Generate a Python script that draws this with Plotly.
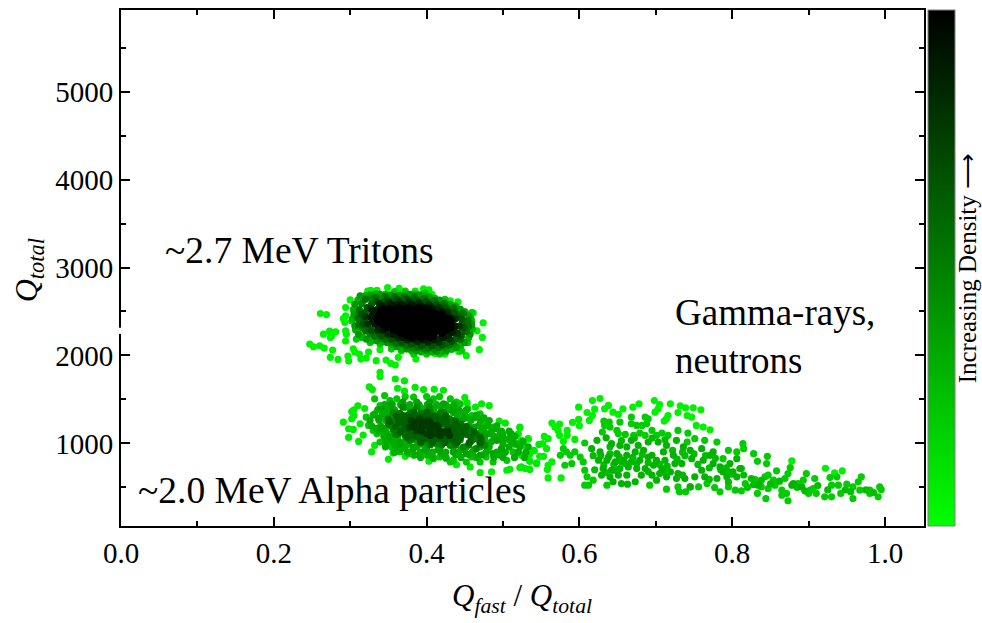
import plotly.graph_objects as go

FONT = "Liberation Serif"

# Values: Q_fast/Q_total and Q_total, grouped by density level.
triton_sparse_x = [.261,.269,.247,.252,.260,.266,.265,.273,.281,.276,.274,.294,.294,.291,.293,.294,.295,.294,.277,.274,.284,.297,.298,.304,.306,.312,.314,.321,.324,.339,.334,.347,.353,.359,.363,.386,.339,.339,.300,.323,.327,.335,.349,.364,.385,.396,.403,.407,.431,.441,.461,.474,.466,.473,.469,.452,.442,.424,.411]
triton_sparse_y = [2477,2465,2129,2099,2110,2084,2242,2276,2269,2223,2205,2545,2450,2420,2375,2280,2242,2163,2061,1978,1955,1993,1936,2076,2038,2016,1959,1970,2038,2065,1940,1948,1910,1891,1978,1959,1808,1759,2631,2733,2741,2741,2771,2764,2733,2756,2745,2696,2620,2609,2484,2371,2280,2205,2065,1997,2046,2016,2023]
triton_edge_x = [.317,.332,.358,.372,.398,.424,.437,.448,.459,.459,.454,.446,.417,.400,.383,.367,.354,.339,.326,.315,.308,.302]
triton_edge_y = [2620,2639,2726,2733,2715,2639,2563,2488,2488,2393,2148,2053,2016,2016,2016,2053,2072,2129,2148,2205,2186,2393]
triton_ringo_x = [.310,.320,.333,.346,.358,.372,.385,.398,.411,.424,.438,.450,.458,.460,.455,.445,.433,.420,.406,.393,.380,.367,.354,.341,.328,.316,.307,.303,.304]
triton_ringo_y = [2630,2680,2700,2695,2695,2700,2698,2680,2650,2610,2560,2500,2420,2300,2200,2120,2070,2040,2040,2040,2055,2080,2120,2150,2165,2210,2290,2420,2520]
triton_ringa_x = [.306,.313,.326,.339,.352,.365,.378,.391,.404,.417,.431,.444,.455,.459,.457,.450,.439,.426,.413,.400,.387,.374,.361,.348,.335,.321,.311,.306,.305]
triton_ringa_y = [2582,2677,2688,2696,2688,2688,2696,2688,2665,2628,2582,2526,2450,2356,2242,2148,2091,2053,2046,2053,2053,2072,2099,2148,2167,2186,2242,2337,2469]
triton_ringi_x = [.315,.328,.341,.354,.367,.380,.393,.406,.419,.432,.442,.450,.450,.446,.436,.423,.410,.396,.382,.368,.354,.340,.326,.316,.313,.312]
triton_ringi_y = [2590,2640,2650,2650,2650,2650,2635,2610,2570,2520,2460,2380,2280,2220,2140,2100,2070,2075,2085,2125,2150,2195,2240,2310,2400,2470]
triton_ringab_x = [.320,.333,.346,.358,.371,.384,.397,.410,.423,.436,.448,.454,.455,.452,.444,.430,.416,.402,.388,.374,.360,.346,.332,.320,.311,.310,.312]
triton_ringab_y = [2640,2660,2670,2670,2670,2668,2650,2625,2590,2540,2480,2400,2330,2270,2180,2120,2090,2085,2090,2110,2140,2180,2220,2280,2350,2420,2520]
triton_gap_x = [.328,.344,.356,.369,.382,.395,.408,.420,.432,.441,.447,.446,.438,.425,.410,.396,.382,.368,.352,.338,.325,.318,.320]
triton_gap_y = [2585,2610,2620,2625,2620,2600,2570,2555,2500,2440,2360,2270,2190,2135,2120,2120,2140,2160,2200,2245,2300,2400,2490]
triton_ringb_x = [.322,.335,.348,.361,.374,.387,.400,.413,.426,.437,.446,.449,.444,.433,.420,.407,.393,.380,.367,.354,.341,.328,.317,.315]
triton_ringb_y = [2545,2613,2628,2639,2639,2628,2613,2582,2537,2488,2412,2318,2223,2159,2122,2110,2110,2129,2148,2186,2223,2280,2356,2469]
triton_ringbc_x = [.327,.338,.351,.364,.377,.390,.403,.416,.428,.438,.443,.440,.430,.416,.402,.388,.375,.362,.349,.336,.323,.320]
triton_ringbc_y = [2530,2590,2605,2610,2610,2598,2578,2540,2490,2420,2335,2250,2190,2150,2148,2155,2175,2200,2240,2290,2360,2440]
triton_gap2_x = [.335,.346,.360,.374,.386,.400,.414,.426,.434,.436,.428,.415,.402,.390,.376,.362,.350,.337,.330,.329]
triton_gap2_y = [2520,2560,2575,2575,2570,2550,2518,2465,2400,2300,2230,2190,2165,2175,2190,2225,2265,2320,2395,2465]
triton_ringc_x = [.330,.341,.354,.367,.380,.393,.407,.420,.431,.437,.433,.422,.409,.396,.383,.369,.356,.343,.332,.327]
triton_ringc_y = [2507,2563,2582,2582,2582,2563,2537,2499,2431,2337,2261,2205,2178,2178,2186,2205,2242,2288,2356,2431]
triton_core_x = [.343,.356,.369,.383,.396,.337,.348,.359,.369,.380,.391,.402,.413,.339,.350,.361,.372,.383,.393,.404,.415,.426,.356,.367,.378,.389,.400,.411,.422,.372,.383,.393,.404,
                 .350,.363,.376,.389,.402,.343,.354,.365,.376,.387,.398,.409,.420,.343,.354,.365,.376,.387,.398,.409,.420,.430,.348,.359,.369,.380,.391,.402,.413,.424,.365,.376,.387,.398,.409,.417,.380,.392,.404,
                 .340,.351,.362,.373,.384,.395,.406,
                 .338,.349,.360,.371,.382,.393,.404,.415,
                 .336,.347,.358,.369,.380,.391,.402,.413,.424,
                 .336,.347,.358,.369,.380,.391,.402,.413,.424,.432,
                 .342,.353,.364,.375,.386,.397,.408,.419,.430,
                 .347,.358,.369,.380,.391,.402,.413,.424,.432,
                 .360,.371,.382,.393,.404,.415,.426,
                 .366,.377,.388,.399,.410,.420,
                 .375,.386,.397,.408]
triton_core_y = [2526,2526,2526,2526,2526,2450,2450,2450,2450,2450,2450,2450,2450,2375,2375,2375,2375,2375,2375,2375,2375,2375,2299,2299,2299,2299,2299,2299,2299,2242,2242,2242,2242,
                 2526,2540,2540,2540,2526,2488,2488,2488,2488,2488,2488,2488,2470,2412,2412,2412,2412,2412,2412,2412,2412,2412,2337,2337,2337,2337,2337,2337,2337,2337,2270,2270,2270,2270,2270,2270,2205,2205,2205,
                 2505,2505,2505,2505,2505,2505,2505,
                 2465,2465,2465,2465,2465,2465,2465,2465,
                 2430,2430,2430,2430,2430,2430,2430,2430,2430,
                 2395,2395,2395,2395,2395,2395,2395,2395,2395,2395,
                 2355,2355,2355,2355,2355,2355,2355,2355,2355,
                 2318,2318,2318,2318,2318,2318,2318,2318,2318,
                 2285,2285,2285,2285,2285,2285,2285,
                 2250,2250,2250,2250,2250,2250,
                 2220,2220,2220,2220]

alpha_sparse_x = [.325,.329,.359,.371,.385,.362,.371,.396,.410,.422,.450,.472,.482,.464,.453,.310,.305,.302,.319,.305,.291,.302,.298,.304,.298,.313,.317,.311,.328,.350,.332,.356,.372,.403,.426,.439,.457,.470,.485,.505,.509,.524,.535,.544,.540,.547,.533,.522,.503,.495,.520,.534,.535]
alpha_sparse_y = [1642,1612,1732,1710,1638,1627,1593,1612,1615,1604,1521,1449,1430,1411,1460,1427,1381,1362,1396,1317,1241,1279,1166,1158,1068,1223,1094,1022,902,818,977,890,852,796,826,758,732,667,675,694,705,732,705,777,920,988,1053,1185,1230,1253,1109,875,800]
alpha_ring1_x = [.332,.345,.361,.383,.400,.417,.431,.444,.459,.474,.487,.500,.509,.513,.505,.487,.470,.452,.435,.417,.400,.383,.365,.348,.335,.324,.332,.339,.321,.330,.339,.354,.376,.409,.431,.459,.478,.496,.518,.511,.470,.454,.439,.409,.372,.352]
alpha_ring1_y = [1506,1544,1506,1525,1532,1532,1506,1449,1317,1241,1185,1109,1034,902,807,788,788,788,807,845,864,864,902,996,1109,1204,1336,1430,1298,1147,1015,958,883,826,788,845,845,864,996,1109,1336,1393,1468,1506,1532,1487]
alpha_ring2_x = [.341,.354,.369,.387,.404,.422,.435,.448,.463,.478,.492,.498,.487,.470,.452,.435,.417,.400,.383,.365,.352,.341,.337]
alpha_ring2_y = [1393,1449,1468,1468,1468,1449,1374,1279,1185,1109,1034,939,883,864,883,902,920,939,958,996,1072,1166,1279]
alpha_ring3_x = [.356,.369,.387,.404,.422,.435,.450,.465,.476,.465,.448,.431,.413,.396,.378,.363,.354]
alpha_ring3_y = [1355,1411,1411,1411,1355,1260,1147,1053,977,939,958,977,996,1015,1034,1109,1223]
alpha_ring4_x = [.369,.383,.400,.417,.431,.444,.435,.417,.400,.383,.372,.365]
alpha_ring4_y = [1317,1355,1355,1279,1185,1090,1034,1053,1053,1090,1166,1241]
alpha_core_x = [.380,.391,.402,.413,.424,.413,.400,.387,.378,.396,.407]
alpha_core_y = [1260,1279,1260,1204,1128,1109,1109,1147,1185,1204,1166]
alpha_fill_x = [.345,.355,.366,.378,.390,.401,.413,.425,.436,
                .336,.347,.358,.379,.395,.409,.428,.442,.452,
                .330,.343,.350,.361,.376,.392,.410,.425,.440,.450,.465,
                .326,.338,.347,.358,.372,.390,.412,.428,.445,.458,.470,.482,
                .328,.340,.350,.362,.385,.400,.425,.440,.455,.468,.480,.492,
                .338,.346,.357,.369,.392,.420,.440,.458,.472,.485,.498,.508,
                .344,.352,.361,.372,.390,.408,.428,.445,.460,.473,.488,.500,.516,
                .346,.355,.364,.372,.388,.405,.422,.440,.458,.470,.485,.500,.512,.526,
                .346,.360,.372,.387,.400,.418,.435,.452,.470,.482,.508,.522,.533,
                .358,.375,.392,.408,.425,.442,.460,.478,.492,.503,.520,.530,
                .392,.408,.425,.445,.465,.488,.500,.515,.528,
                .350,.372,.392,.418,.432,
                .342,.356,.402,.418,.435,.448,
                .338,.352,.370,.452,.462,.475,
                .334,.345,.455,.475,.490,
                .348,.358,.468,.482,.496,.510,
                .352,.362,.378,.476,.492,.508,
                .358,.376,.392,.478,.500,.516,
                .366,.382,.398,.415,.445,.462,.480,.498,
                .385,.402,.420,.438,.456,.474,.495]
alpha_fill_y = [1440,1440,1440,1440,1440,1440,1440,1440,1440,
                1380,1380,1380,1380,1380,1380,1380,1380,1380,
                1320,1320,1320,1320,1320,1320,1320,1320,1320,1320,1320,
                1260,1260,1260,1260,1260,1260,1260,1260,1260,1260,1260,1260,
                1200,1200,1200,1200,1200,1200,1200,1200,1200,1200,1200,1200,
                1140,1140,1140,1140,1140,1140,1140,1140,1140,1140,1140,1140,
                1080,1080,1080,1080,1080,1080,1080,1080,1080,1080,1080,1080,1080,
                1020,1020,1020,1020,1020,1020,1020,1020,1020,1020,1020,1020,1020,1020,
                960,960,960,960,960,960,960,960,960,960,960,960,960,
                900,900,900,900,900,900,900,900,900,900,900,900,
                840,840,840,840,840,840,840,840,840,
                1410,1410,1410,1410,1410,
                1350,1350,1350,1350,1350,1350,
                1290,1290,1290,1290,1290,1290,
                1170,1170,1170,1170,1170,
                1110,1110,1110,1110,1110,1110,
                1050,1050,1050,1050,1050,1050,
                990,990,990,990,990,990,
                930,930,930,930,930,930,930,930,
                870,870,870,870,870,870,870]
alpha_inner_x = [.365,.378,.392,.405,.418,
                 .350,.362,.375,.390,.405,.420,.430,
                 .350,.360,.372,.388,.404,.420,.434,.445,
                 .356,.368,.380,.396,.412,.428,.444,.456,
                 .360,.372,.388,.404,.420,.436,.452,.466,
                 .380,.396,.412,.428,.444,.460,.472,
                 .405,.420,.438,.455,.470]
alpha_inner_y = [1340,1340,1340,1340,1340,
                 1280,1280,1280,1280,1280,1280,1280,
                 1220,1220,1220,1220,1220,1220,1220,1220,
                 1160,1160,1160,1160,1160,1160,1160,1160,
                 1100,1100,1100,1100,1100,1100,1100,1100,
                 1040,1040,1040,1040,1040,1040,1040,
                 985,985,985,985,985]
alpha_mid_x = [.378,.392,.406,.368,.380,.394,.408,.420,.372,.384,.398,.412,.428,.438,.382,.396,.410,.424,.438,.450,.396,.410,.424,.438,
               .360,.372,.385,.399,.412,.425,
               .352,.364,.376,.388,.400,.414,.426,.438,
               .360,.372,.386,.400,.414,.428,.442,.452,
               .366,.378,.392,.406,.420,.434,.448,.462,
               .374,.388,.402,.416,.430,.444,.458,.470,
               .392,.408,.424,.440,.456,.470]
alpha_mid_y = [1300,1300,1300,1240,1240,1240,1240,1240,1180,1180,1180,1180,1180,1180,1120,1120,1120,1120,1120,1120,1065,1065,1065,1065,
               1310,1310,1310,1310,1310,1310,
               1250,1250,1250,1250,1250,1250,1250,1250,
               1190,1190,1190,1190,1190,1190,1190,1190,
               1130,1130,1130,1130,1130,1130,1130,1130,
               1070,1070,1070,1070,1070,1070,1070,1070,
               1010,1010,1010,1010,1010,1010]
alpha_top_x = [.385,.395,.405,.383,.393,.403,.415,.393,.405,.417,.428,.405,.418,.430]
alpha_top_y = [1240,1240,1240,1190,1190,1190,1190,1140,1140,1140,1140,1090,1090,1090]

gamma_sparse_x = [.522,.533,.524,.522,.528,.541,.535,.524,.535,.544,.548,.553,.522,.529,.535,.554,.559,.552,.557,.564,.574,.568,.572,.584,.574,.584,.579,.594,.559,.564,.558,.559,.576,.599,.617,.627,.620,.610,.617,.613,.599,.591,.600,.633,.638,.644,.651,.657,.670,.678,.698,.705,.719,.732,.739,.749,.729,.741,.759,.747,.716,.714,.711,.699,.703,.771,.762,.753,.878,.922,.934,.944]
gamma_sparse_y = [1178,1049,1034,977,977,913,875,864,796,770,853,853,724,713,702,1079,1053,996,940,1231,1219,1185,1147,1147,1091,1091,1023,1045,751,789,702,607,607,1412,1487,1510,1389,1351,1317,1261,1272,1238,1200,1393,1431,1355,1329,1393,1412,1450,1487,1442,1450,1427,1404,1404,1351,1317,1382,1299,1317,1280,1253,1355,1393,1155,1185,1204,800,717,664,687]
gamma_mid_x = [.575,.579,.583,.588,.581,.590,.594,.601,.605,.607,.610,.612,.607,.618,.686,.690,.668,.668,.653,.632,.639,.633,.640,.630,.649,.651,.660,.675,.682,.688,.671,.679,.686,.695,.701,.708,.716,.729,.742,.751,.741,.764,.780,.607,.788,.795,.806,.814,.815,.828,.812,.833,.846,.845,.858,.847,.843,.830,.817,.812,.804,.795,.784,.777,.767,.756,.745,.739,.731,.729,.714,.692,.636,.833,.844,.847,.856,.876,.873,.869,.865,.865,.873,.886,.897,.893,.908,.906,.900,.910,.921,.930,.928,.937,.930,.939,.950,.942,.958,.958,.965,.969,.967,.980,.980,.991,.993,.995,.902,.871,.854,.838]
gamma_mid_y = [864,940,902,864,751,770,902,845,789,1004,619,524,524,581,1299,1280,1299,1223,1242,1253,1242,1204,1185,1129,1147,1110,1102,1204,1204,1223,1091,1117,1091,1147,1091,1117,1091,1147,1117,1053,1015,1034,1015,694,826,921,902,996,940,883,713,796,853,770,687,638,619,588,543,460,468,505,449,498,543,505,505,449,449,505,479,524,524,430,373,486,524,724,656,600,468,411,347,543,656,581,600,486,430,430,392,392,611,619,524,524,536,430,373,505,562,619,468,430,468,392,505,475,468,430,581,505]
gamma_dense_x = [.623,.635,.642,.653,.662,.668,.677,.690,.703,.714,.727,.616,.627,.638,.649,.662,.673,.684,.695,.710,.723,.736,.745,.760,.775,.625,.636,.647,.658,.668,.679,.690,.701,.712,.725,.734,.747,.762,.771,.784,.797,.806,.631,.642,.653,.664,.675,.686,.697,.708,.719,.729,.760,.775,.788,.801,.810,.629,.640,.651,.662,.681,.695,.705,.714,.727,.738,.751,.764,.780,.793,.806,.644,.655,.663,.673,.701,.745,.878,.880,.891,.834]
gamma_dense_y = [1034,1064,996,977,959,1034,977,1015,1015,977,1034,940,902,845,883,864,902,921,864,902,864,959,921,940,902,808,808,789,808,789,808,845,808,808,770,770,826,808,864,732,770,826,713,694,713,732,713,713,751,713,675,656,694,770,675,675,713,638,619,638,638,638,638,656,619,600,600,619,619,600,619,619,562,543,536,562,581,505,524,543,505,524]
gamma_extra_x = [.618,.628,.640,.652,.655,.645,.632,.620,.634,.647,.660,.670,.682,.690,.705,.715,.728,.738,.750,.765,.778,.792,.800,.815,.825,.838,.850,.862,.885,.895,.912,.925,.948,.955,.975,.985,.640,.655,.672,.695,.712,.722,.735,.755,.770,.785,.795,.675,.690,.712,.735,.770,.795,.820,.828]
gamma_extra_y = [860,860,880,850,790,760,755,700,670,690,770,840,870,780,760,740,820,860,880,860,830,720,650,640,600,580,540,570,500,460,520,470,470,450,470,440,960,1030,1060,1060,1040,920,900,760,720,700,680,770,680,670,640,590,560,500,530]

density_groups = [
    (triton_sparse_x, triton_sparse_y, 0.05),
    (triton_edge_x, triton_edge_y, 0.20),
    (triton_ringo_x, triton_ringo_y, 0.30),
    (triton_ringa_x, triton_ringa_y, 0.40),
    (triton_ringi_x, triton_ringi_y, 0.48),
    (triton_ringab_x, triton_ringab_y, 0.56),
    (triton_gap_x, triton_gap_y, 0.62),
    (triton_ringb_x, triton_ringb_y, 0.68),
    (triton_ringbc_x, triton_ringbc_y, 0.80),
    (triton_gap2_x, triton_gap2_y, 0.85),
    (triton_ringc_x, triton_ringc_y, 0.90),
    (triton_core_x, triton_core_y, 1.0),
    (alpha_sparse_x, alpha_sparse_y, 0.08),
    (alpha_ring1_x, alpha_ring1_y, 0.22),
    (alpha_ring2_x, alpha_ring2_y, 0.36),
    (alpha_fill_x, alpha_fill_y, 0.32),
    (alpha_ring3_x, alpha_ring3_y, 0.46),
    (alpha_inner_x, alpha_inner_y, 0.52),
    (alpha_ring4_x, alpha_ring4_y, 0.60),
    (alpha_mid_x, alpha_mid_y, 0.62),
    (alpha_core_x, alpha_core_y, 0.76),
    (alpha_top_x, alpha_top_y, 0.78),
    (gamma_sparse_x, gamma_sparse_y, 0.06),
    (gamma_mid_x, gamma_mid_y, 0.20),
    (gamma_dense_x, gamma_dense_y, 0.30),
    (gamma_extra_x, gamma_extra_y, 0.26),
]

pts = []
for gx, gy, lv in density_groups:
    pts.extend((a, b, lv) for a, b in zip(gx, gy))
pts.sort(key=lambda p: p[2])

fig = go.Figure(go.Scatter(
    x=[p[0] for p in pts], y=[p[1] for p in pts], mode="markers",
    marker=dict(
        size=7.2, color=[p[2] for p in pts], cmin=0, cmax=1,
        colorscale=[[0, "#00ff00"], [1, "#000000"]], line=dict(width=0),
        colorbar=dict(
            x=(928 - 121) / 803, xanchor="left", xpad=0, ypad=0, y=0.5, yanchor="middle",
            len=1, lenmode="fraction", thickness=27, thicknessmode="pixels",
            outlinecolor="#808080", outlinewidth=1, showticklabels=False, ticks="",
            nticks=40,
        ),
    ),
    showlegend=False,
))

axis_common = dict(
    showgrid=False, zeroline=False, showline=True, linecolor="black", linewidth=2,
    mirror="ticks", ticks="inside", ticklen=9, tickwidth=2, tickcolor="black",
    tickfont=dict(family=FONT, size=29, color="black"),
)
fig.update_xaxes(range=[0, 1.051], tick0=0, dtick=0.2, tickformat=".1f",
                 minor=dict(dtick=0.1, ticks="inside", ticklen=5, tickwidth=2, tickcolor="black"),
                 **axis_common)
fig.update_yaxes(range=[60, 5929], tick0=0, dtick=1000,
                 minor=dict(dtick=500, ticks="inside", ticklen=5, tickwidth=2, tickcolor="black"),
                 **axis_common)

def note(text, x, y, size, xanchor="left", angle=0, xref="x", yref="y"):
    fig.add_annotation(text=text, x=x, y=y, xref=xref, yref=yref, showarrow=False,
                       xanchor=xanchor, yanchor="middle", align="left", textangle=angle,
                       font=dict(family=FONT, size=size, color="black"))

note("~2.7 MeV Tritons", 0.0555, 3190, 37.5)
note("~2.0 MeV Alpha particles", 0.019, 465, 37.5)
note("Gamma-rays,<br>neutrons", 0.7225, 2215, 37)
note("<i>Q<sub>fast</sub></i> / <i>Q<sub>total</sub></i>", 0.525, -0.14, 31, "center", xref="x", yref="paper")
note("<i>Q<sub>total</sub></i>", -0.115, 0.495, 32, "center", -90, xref="paper", yref="paper")
note("Increasing Density ⟶", 1.054, 0.5, 25, "center", -90, xref="paper", yref="paper")

# Break in the left axis line
fig.add_shape(type="rect", xref="paper", yref="y", x0=-0.004, x1=0.004, y0=2245, y1=2315,
              fillcolor="white", line=dict(width=0), layer="above")

fig.update_layout(width=982, height=623, autosize=False, plot_bgcolor="white", paper_bgcolor="white",
                  margin=dict(l=121, r=58, t=8, b=97, pad=0))
fig.write_html("out.html", post_script="document.body.style.margin='0';",
               config=dict(displayModeBar=False))
